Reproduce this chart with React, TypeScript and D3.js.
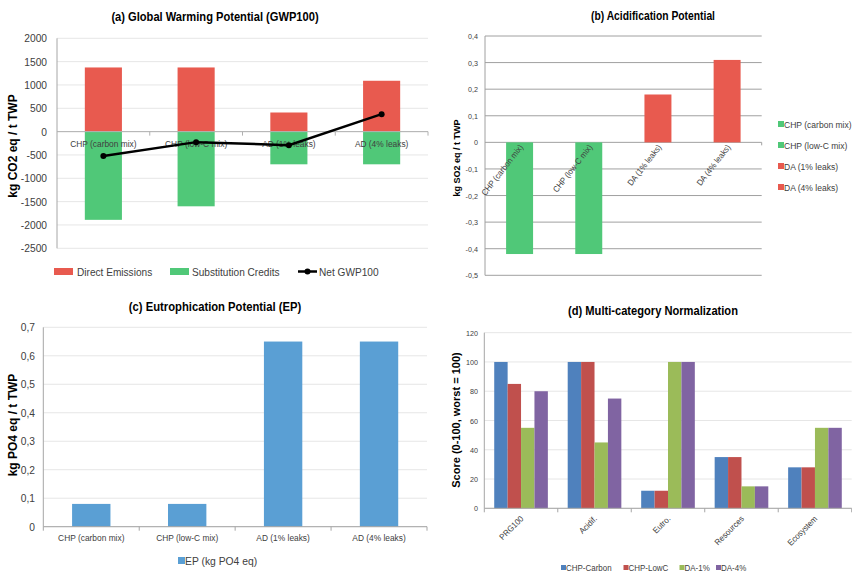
import React from "react";
import * as d3 from "d3";

const catsA = ["CHP (carbon mix)", "CHP (low-C mix)", "AD (1% leaks)", "AD (4% leaks)"];
const directEmissions = [1375, 1375, 410, 1090];
const substitutionCredits = [-1890, -1600, -700, -700];
const netGWP = [-520, -225, -290, 375];
const ticksA = [2000, 1500, 1000, 500, 0, -500, -1000, -1500, -2000, -2500];

const catsB = ["CHP (carbon mix)", "CHP (low-C mix)", "DA (1% leaks)", "DA (4% leaks)"];
const acidValues = [-0.42, -0.42, 0.18, 0.31];
const acidColorKeys = ["green", "green", "red", "red"];
const ticksB = [0.4, 0.3, 0.2, 0.1, 0, -0.1, -0.2, -0.3, -0.4, -0.5];

const catsC = ["CHP (carbon mix)", "CHP (low-C mix)", "AD (1% leaks)", "AD (4% leaks)"];
const epValues = [0.08, 0.08, 0.65, 0.65];
const ticksC = [0, 0.1, 0.2, 0.3, 0.4, 0.5, 0.6, 0.7];

const catsD = ["PRG100", "Acidif.", "Eutro.", "Resources", "Ecosystem"];
const seriesD = ["CHP-Carbon", "CHP-LowC", "DA-1%", "DA-4%"];
const chpCarbon = [100, 100, 12, 35, 28];
const chpLowC = [85, 100, 12, 35, 28];
const da1 = [55, 45, 100, 15, 55];
const da4 = [80, 75, 100, 15, 55];
const ticksD = [0, 20, 40, 60, 80, 100, 120];

const RED = "#E85A4F";
const GREEN = "#50C878";
const BLUE = "#5A9FD4";
const D_COLORS = ["#4F81BD", "#C0504D", "#9BBB59", "#8064A2"];
const FONT = "'Liberation Sans', Arial, sans-serif";
const TXT = "#404040";

const comma = (v: number) => (v === 0 ? "0" : v.toFixed(1).replace(".", ","));

function T(props: {
  x: number;
  y: number;
  sx?: number;
  rot?: number;
  anchor?: string;
  size: number;
  bold?: boolean;
  fill?: string;
  children: React.ReactNode;
}) {
  const { x, y, sx = 1, rot = 0, anchor = "start", size, bold, fill = TXT, children } = props;
  return (
    <text
      transform={`translate(${x},${y}) rotate(${rot}) scale(${sx},1)`}
      textAnchor={anchor}
      fontSize={size}
      fontWeight={bold ? "bold" : "normal"}
      fill={fill}
    >
      {children}
    </text>
  );
}

function PanelA() {
  const y = d3.scaleLinear().domain([-2500, 2000]).range([248.3, 38.3]);
  const x = d3.scaleBand().domain(catsA).range([57, 428]).paddingInner(0.6).paddingOuter(0.3);
  const step = x.step();
  const x0 = 57;
  const line = d3
    .line<number>()
    .x((_, i) => (x(catsA[i]) as number) + x.bandwidth() / 2)
    .y((d) => y(d));
  return (
    <g fontFamily={FONT}>
      <T x={215} y={21} anchor="middle" size={12.5} bold sx={0.89} fill="#000">
        (a) Global Warming Potential (GWP100)
      </T>
      {ticksA.map((t) => (
        <g key={t}>
          <line x1={x0} x2={428} y1={y(t)} y2={y(t)} stroke="#e6e6e6" strokeWidth={1} />
          <T x={47} y={y(t) + 4} anchor="end" size={11} sx={0.93}>
            {t}
          </T>
        </g>
      ))}
      <line x1={x0} x2={x0} y1={y(2000)} y2={y(-2500)} stroke="#a6a6a6" />
      {catsA.map((c, i) => (
        <rect key={"d" + c} x={x(c)} width={x.bandwidth()} y={y(directEmissions[i])} height={y(0) - y(directEmissions[i])} fill={RED} />
      ))}
      {catsA.map((c, i) => (
        <rect key={"s" + c} x={x(c)} width={x.bandwidth()} y={y(0)} height={y(substitutionCredits[i]) - y(0)} fill={GREEN} />
      ))}
      <line x1={x0} x2={428} y1={y(0)} y2={y(0)} stroke="#b0b0b0" />
      {[1, 2, 3, 4].map((i) => (
        <line key={i} x1={x0 + i * step} x2={x0 + i * step} y1={y(0)} y2={y(0) + 4} stroke="#b0b0b0" />
      ))}
      {catsA.map((c) => (
        <T key={"l" + c} x={(x(c) as number) + x.bandwidth() / 2} y={147} anchor="middle" size={9} sx={0.93}>
          {c}
        </T>
      ))}
      <path d={line(netGWP) as string} fill="none" stroke="#000" strokeWidth={2.5} />
      {netGWP.map((v, i) => (
        <circle key={i} cx={(x(catsA[i]) as number) + x.bandwidth() / 2} cy={y(v)} r={3} fill="#000" />
      ))}
      <rect x={54} y={268} width={19} height={7} fill={RED} />
      <T x={77} y={276} size={11} sx={0.92}>Direct Emissions</T>
      <rect x={170} y={268} width={19} height={7} fill={GREEN} />
      <T x={192} y={276} size={11} sx={0.92}>Substitution Credits</T>
      <line x1={298} x2={317} y1={271.5} y2={271.5} stroke="#000" strokeWidth={2.5} />
      <circle cx={307.5} cy={271.5} r={3} fill="#000" />
      <T x={319} y={276} size={11} sx={0.92}>Net GWP100</T>
      <T x={17} y={146} rot={-90} anchor="middle" size={12} bold fill="#000">
        kg CO2 eq / t TWP
      </T>
    </g>
  );
}

function PanelB() {
  const y = d3.scaleLinear().domain([-0.5, 0.4]).range([275.3, 36]);
  const x = d3.scaleBand().domain(catsB).range([485, 761.7]).paddingInner(0.61).paddingOuter(0.305);
  const x0 = 485;
  return (
    <g fontFamily={FONT}>
      <T x={653} y={20} anchor="middle" size={12} bold sx={0.86} fill="#000">
        (b) Acidification Potential
      </T>
      {ticksB.map((t) => (
        <g key={t}>
          <line x1={x0} x2={761.7} y1={y(t)} y2={y(t)} stroke="#a0a0a0" strokeWidth={1} />
          <T x={478} y={y(t) + 3} anchor="end" size={8} sx={0.9}>
            {comma(t)}
          </T>
        </g>
      ))}
      <line x1={x0} x2={x0} y1={y(0.4)} y2={y(-0.5)} stroke="#a0a0a0" />
      {catsB.map((c, i) => {
        const v = acidValues[i];
        return (
          <rect
            key={c}
            x={x(c)}
            width={x.bandwidth()}
            y={y(Math.max(0, v))}
            height={Math.abs(y(v) - y(0))}
            fill={acidColorKeys[i] === "green" ? GREEN : RED}
          />
        );
      })}
      <line x1={761.7} x2={761.7} y1={y(0)} y2={y(0) + 3} stroke="#a0a0a0" />
      {catsB.map((c) => {
        const cx = (x(c) as number) + x.bandwidth() / 2 + 4;
        return (
          <T key={"l" + c} x={cx} y={y(0) + 5} rot={-52} anchor="end" size={8.5} sx={0.92}>
            {c}
          </T>
        );
      })}
      <T x={460} y={158} rot={-90} anchor="middle" size={9} bold fill="#000">
        kg SO2 eq / t TWP
      </T>
      {catsB.map((c, i) => (
        <g key={"lg" + c}>
          <rect x={778} y={121 + i * 21} width={6} height={6} fill={acidColorKeys[i] === "green" ? GREEN : RED} />
          <T x={784} y={127.5 + i * 21} size={9.5} sx={0.9}>{c}</T>
        </g>
      ))}
    </g>
  );
}

function PanelC() {
  const y = d3.scaleLinear().domain([0, 0.7]).range([526.7, 327.3]);
  const x = d3.scaleBand().domain(catsC).range([43.3, 427]).paddingInner(0.6).paddingOuter(0.3);
  const x0 = 43.3;
  const step = x.step();
  return (
    <g fontFamily={FONT}>
      <T x={215} y={311} anchor="middle" size={12.5} bold sx={0.9} fill="#000">
        (c) Eutrophication Potential (EP)
      </T>
      {ticksC.map((t) => (
        <g key={t}>
          <line x1={x0} x2={427} y1={y(t)} y2={y(t)} stroke="#e6e6e6" />
          <T x={35} y={y(t) + 4} anchor="end" size={11} sx={0.93}>
            {comma(t)}
          </T>
        </g>
      ))}
      <line x1={x0} x2={x0} y1={y(0.7)} y2={y(0)} stroke="#a6a6a6" />
      {catsC.map((c, i) => (
        <rect key={c} x={x(c)} width={x.bandwidth()} y={y(epValues[i])} height={y(0) - y(epValues[i])} fill={BLUE} />
      ))}
      <line x1={x0} x2={427} y1={y(0)} y2={y(0)} stroke="#a6a6a6" />
      {[0, 1, 2, 3, 4].map((i) => (
        <line key={i} x1={x0 + i * step} x2={x0 + i * step} y1={y(0)} y2={y(0) + 4} stroke="#a6a6a6" />
      ))}
      {catsC.map((c) => (
        <T key={"l" + c} x={(x(c) as number) + x.bandwidth() / 2} y={541} anchor="middle" size={9} sx={0.93}>
          {c}
        </T>
      ))}
      <rect x={178} y={557} width={7} height={7} fill={BLUE} />
      <T x={185} y={564.5} size={11} sx={0.94}>
        EP (kg PO4 eq)
      </T>
      <T x={17} y={425} rot={-90} anchor="middle" size={12} bold fill="#000">
        kg PO4 eq / t TWP
      </T>
    </g>
  );
}

function PanelD() {
  const y = d3.scaleLinear().domain([0, 120]).range([508.3, 332.7]);
  const x = d3.scaleBand().domain(catsD).range([484.3, 851.7]).paddingInner(0.27).paddingOuter(0.135);
  const x1 = d3.scaleBand().domain(seriesD).range([0, x.bandwidth()]);
  const x0 = 484.3;
  const step = x.step();
  const values = [chpCarbon, chpLowC, da1, da4];
  const legendX = [561, 623.5, 679.5, 716];
  return (
    <g fontFamily={FONT}>
      <T x={653} y={315} anchor="middle" size={12.5} bold sx={0.89} fill="#000">
        (d) Multi-category Normalization
      </T>
      {ticksD.map((t) => (
        <g key={t}>
          <line x1={x0} x2={851.7} y1={y(t)} y2={y(t)} stroke="#e6e6e6" />
          <T x={478} y={y(t) + 3} anchor="end" size={8} sx={0.9}>
            {t}
          </T>
        </g>
      ))}
      <line x1={x0} x2={x0} y1={y(120)} y2={y(0)} stroke="#a6a6a6" />
      {catsD.map((c, ci) => (
        <g key={c} transform={`translate(${x(c)},0)`}>
          {seriesD.map((s, si) => (
            <rect key={s} x={x1(s)} width={x1.bandwidth()} y={y(values[si][ci])} height={y(0) - y(values[si][ci])} fill={D_COLORS[si]} />
          ))}
        </g>
      ))}
      <line x1={x0} x2={851.7} y1={y(0)} y2={y(0)} stroke="#a6a6a6" />
      {[0, 1, 2, 3, 4, 5].map((i) => (
        <line key={i} x1={x0 + i * step} x2={x0 + i * step} y1={y(0)} y2={y(0) + 4} stroke="#a6a6a6" />
      ))}
      {catsD.map((c) => {
        const cx = (x(c) as number) + x.bandwidth() / 2 + 3;
        return (
          <T key={"l" + c} x={cx} y={y(0) + 11} rot={-45} anchor="end" size={8.5} sx={0.92}>
            {c}
          </T>
        );
      })}
      {seriesD.map((s, i) => (
        <g key={"lg" + s}>
          <rect x={legendX[i]} y={565} width={5} height={5} fill={D_COLORS[i]} />
          <T x={legendX[i] + 5} y={571} size={9.5} sx={0.84}>{s}</T>
        </g>
      ))}
      <T x={460} y={420} rot={-90} anchor="middle" size={11} bold fill="#000">
        Score (0-100, worst = 100)
      </T>
    </g>
  );
}

export default function App() {
  return (
    <svg
      width={852}
      height={576}
      viewBox="0 0 852 576"
      style={{ position: "absolute", left: 0, top: 0, background: "#fff" }}
    >
      <rect x={0} y={0} width={852} height={576} fill="#fff" />
      <PanelA />
      <PanelB />
      <PanelC />
      <PanelD />
    </svg>
  );
}
